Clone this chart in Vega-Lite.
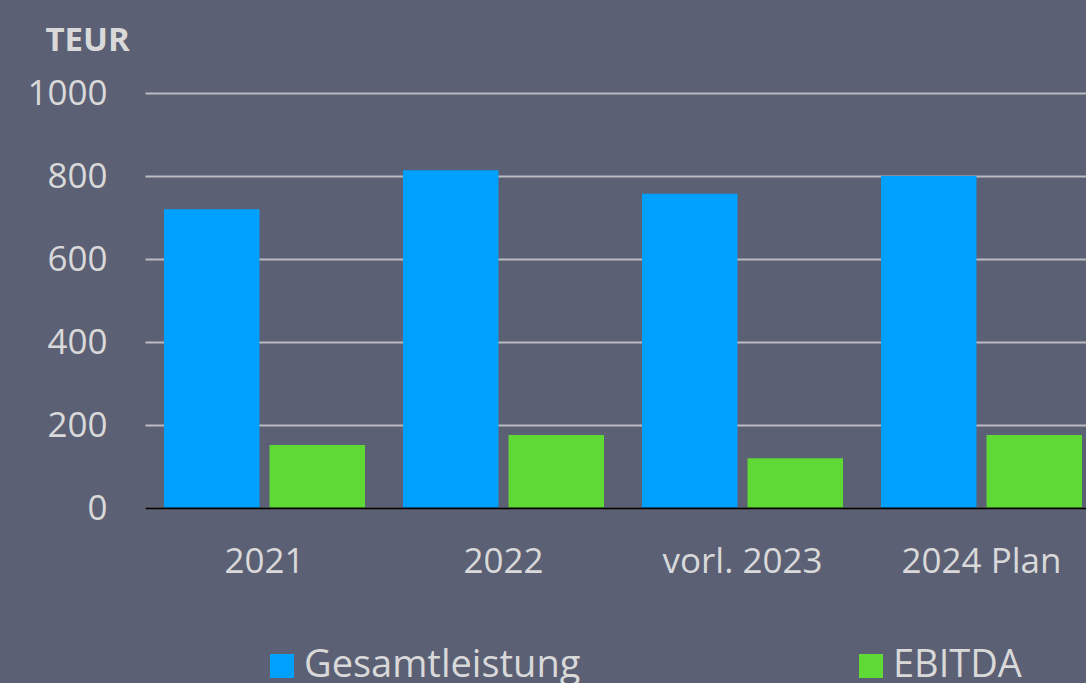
{
  "$schema": "https://vega.github.io/schema/vega-lite/v6.json",
  "width": 941,
  "height": 415,
  "autosize": {"type": "none"},
  "padding": {"left": 145, "top": 93, "right": 0, "bottom": 175},
  "background": "#5b6075",
  "config": {
    "view": {"stroke": null},
    "font": "Open Sans",
    "axis": {"labelFont": "Open Sans", "titleFont": "Open Sans"},
    "legend": {"labelFont": "Open Sans"}
  },
  "data": {
    "values": [
      {"year": "2021", "series": "Gesamtleistung", "value": 720},
      {"year": "2021", "series": "EBITDA", "value": 152},
      {"year": "2022", "series": "Gesamtleistung", "value": 814},
      {"year": "2022", "series": "EBITDA", "value": 176},
      {"year": "vorl. 2023", "series": "Gesamtleistung", "value": 757},
      {"year": "vorl. 2023", "series": "EBITDA", "value": 120},
      {"year": "2024 Plan", "series": "Gesamtleistung", "value": 800},
      {"year": "2024 Plan", "series": "EBITDA", "value": 176}
    ]
  },
  "mark": {"type": "bar"},
  "encoding": {
    "x": {
      "field": "year",
      "type": "nominal",
      "sort": ["2021", "2022", "vorl. 2023", "2024 Plan"],
      "scale": {"range": [0, 956], "paddingInner": 0, "paddingOuter": 0},
      "axis": {
        "title": null,
        "labelAngle": 0,
        "labelFontSize": 35,
        "labelColor": "#d9d9d9",
        "labelPadding": 36,
        "ticks": false,
        "domain": true,
        "domainColor": "#000000",
        "domainWidth": 2,
        "zindex": 1
      }
    },
    "xOffset": {
      "field": "series",
      "type": "nominal",
      "sort": ["Gesamtleistung", "EBITDA"],
      "scale": {"paddingInner": 0.095, "paddingOuter": 0.18}
    },
    "y": {
      "field": "value",
      "type": "quantitative",
      "scale": {"domain": [0, 1000], "nice": false},
      "axis": {
        "values": [0, 200, 400, 600, 800, 1000],
        "format": "d",
        "title": "TEUR",
        "titleAngle": 0,
        "titleAlign": "left",
        "titleBaseline": "alphabetic",
        "titleX": -100,
        "titleY": -43,
        "titleFontSize": 33,
        "titleFontWeight": "bold",
        "titleColor": "#d9d9d9",
        "labelFontSize": 35,
        "labelColor": "#d9d9d9",
        "labelPadding": 38,
        "ticks": false,
        "domain": false,
        "grid": true,
        "gridColor": "#bcbcc0",
        "gridWidth": 2
      }
    },
    "color": {
      "field": "series",
      "type": "nominal",
      "sort": ["Gesamtleistung", "EBITDA"],
      "scale": {"domain": ["Gesamtleistung", "EBITDA"], "range": ["#00a0ff", "#5fd936"]},
      "legend": {
        "title": null,
        "orient": "none",
        "direction": "horizontal",
        "columns": 2,
        "legendX": 118,
        "legendY": 554,
        "symbolType": "square",
        "symbolSize": 576,
        "symbolStrokeWidth": 0,
        "symbolOpacity": 1,
        "labelFontSize": 38,
        "labelColor": "#d9d9d9",
        "labelOffset": 3,
        "labelLimit": 0,
        "columnPadding": 271
      }
    }
  }
}
